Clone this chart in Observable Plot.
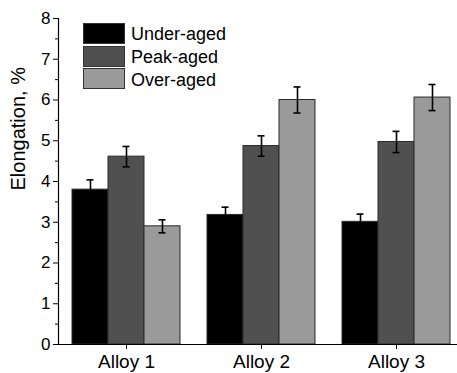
<!DOCTYPE html>
<html>
<head>
<meta charset="utf-8">
<script src="https://cdn.jsdelivr.net/npm/d3@7"></script>
<script src="https://cdn.jsdelivr.net/npm/@observablehq/plot@0.6"></script>
<style>
  html, body { margin: 0; padding: 0; background: #fff; }
  #wrap { position: relative; width: 457px; height: 373px; overflow: hidden; font-family: "Liberation Sans", Arial, sans-serif; }
  #legend { position: absolute; left: 83px; top: 22px; }
  .item { display: flex; align-items: center; height: 22.8px; }
  .sw { width: 40px; height: 19px; border: 1px solid #333; box-sizing: content-box; margin-right: 6px; }
  .lab { font-size: 18px; color: #000; line-height: 1; position: relative; top: 1px; }
</style>
</head>
<body>
<div id="wrap"></div>
<script>
const alloys = ["Alloy 1", "Alloy 2", "Alloy 3"];
const conditions = ["Under-aged", "Peak-aged", "Over-aged"];
const underAged = [3.80, 3.18, 3.01];
const underErr  = [0.24, 0.19, 0.19];
const peakAged  = [4.61, 4.87, 4.97];
const peakErr   = [0.25, 0.25, 0.26];
const overAged  = [2.90, 6.00, 6.06];
const overErr   = [0.16, 0.32, 0.32];
const yTicks = [0, 1, 2, 3, 4, 5, 6, 7, 8];
const yMinor = [0.5, 1.5, 2.5, 3.5, 4.5, 5.5, 6.5, 7.5];
const yTitle = "Elongation, %";

const colors = ["#000000", "#505050", "#9a9a9a"];
const series = [
  {name: conditions[0], values: underAged, errs: underErr},
  {name: conditions[1], values: peakAged, errs: peakErr},
  {name: conditions[2], values: overAged, errs: overErr}
];
const data = series.flatMap((s, i) => alloys.map((a, j) => ({alloy: a, cond: s.name, idx: i, v: s.values[j], e: s.errs[j]})));

const bw = 108, sub = bw / 3, cap = 3.5;
const marks = [];
series.forEach((s, i) => {
  const d = data.filter(r => r.idx === i);
  marks.push(Plot.barY(d, {x: "alloy", y: "v", fill: colors[i], stroke: "#2a2a2a", strokeWidth: 1,
    insetLeft: i * sub, insetRight: (2 - i) * sub}));
});
series.forEach((s, i) => {
  const d = data.filter(r => r.idx === i);
  const off = (i - 1) * sub;
  marks.push(Plot.ruleX(d, {x: "alloy", y1: r => r.v - r.e, y2: r => r.v + r.e, dx: off, stroke: "#000", strokeWidth: 1.6}));
  const il = i * sub + sub / 2 - cap, ir = bw - (i * sub + sub / 2 + cap);
  marks.push(Plot.tickY(d, {x: "alloy", y: r => r.v + r.e, insetLeft: il, insetRight: ir, stroke: "#000", strokeWidth: 1.6}));
  marks.push(Plot.tickY(d, {x: "alloy", y: r => r.v - r.e, insetLeft: il, insetRight: ir, stroke: "#000", strokeWidth: 1.6}));
});

const chart = Plot.plot({
  width: 457,
  height: 373,
  marginLeft: 58,
  marginRight: 0,
  marginTop: 18,
  marginBottom: 29,
  style: {fontFamily: "Liberation Sans, Arial, sans-serif", color: "#000", background: "#fff"},
  x: {domain: alloys, range: [58, 463], paddingInner: 0.2, paddingOuter: 0.1, label: null},
  y: {domain: [0, 8], label: null},
  marks: [
    ...marks,
    Plot.ruleY([0], {stroke: "#000", strokeWidth: 1.2}),
    Plot.frame({anchor: "left", stroke: "#000", strokeWidth: 1.2}),
    Plot.axisY({ticks: yTicks, tickSize: 5, tickPadding: 3, fontSize: 17, label: null, tickFormat: d3.format("d")}),
    Plot.axisY({ticks: yMinor, tickSize: 3, tickFormat: () => "", label: null}),
    Plot.text([yTitle], {text: d => d, frameAnchor: "left", rotate: -90, dx: -40, dy: 9, fontSize: 20, fill: "#000"}),
    Plot.axisX({tickSize: 5, tickPadding: 5, fontSize: 19, label: null})
  ]
});
const wrap = document.getElementById("wrap");
wrap.appendChild(chart);

const legend = document.createElement("div");
legend.id = "legend";
conditions.forEach((c, i) => {
  const it = document.createElement("div");
  it.className = "item";
  it.innerHTML = `<div class="sw" style="background:${colors[i]}"></div><span class="lab">${c}</span>`;
  legend.appendChild(it);
});
wrap.appendChild(legend);
</script>
</body>
</html>
